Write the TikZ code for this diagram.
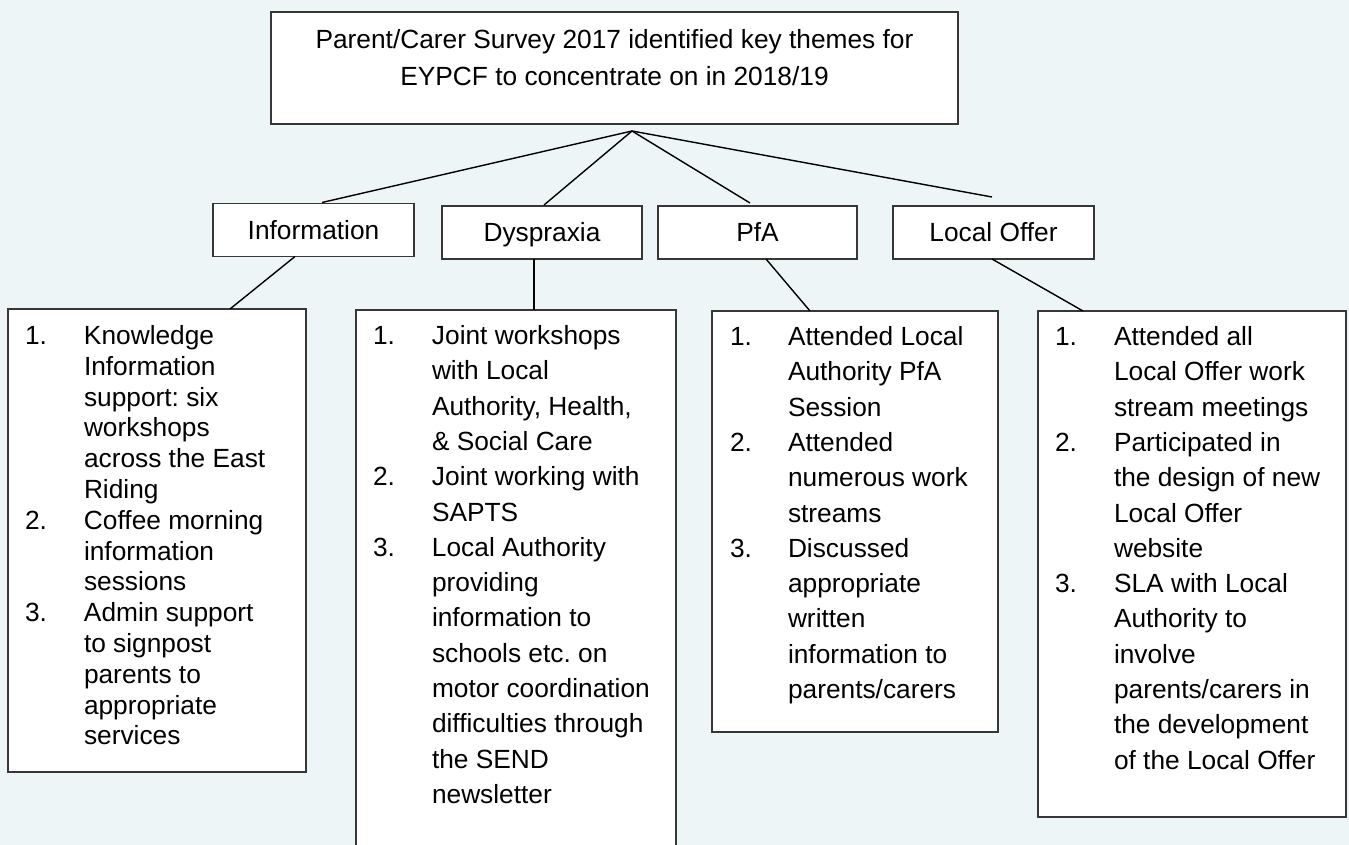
\documentclass[tikz,border=0pt]{standalone}
\usepackage{fontspec}
\setmainfont{Liberation Sans}
\usepackage{array}
\frenchspacing
\definecolor{bgcol}{RGB}{237,245,247}
\definecolor{edgecol}{RGB}{55,55,55}
\begin{document}
\frenchspacing
\begin{tikzpicture}[x=1pt,y=-1pt,
  font=\fontsize{26.3}{30.8}\selectfont\frenchspacing,
  box/.style={draw=edgecol, line width=1.2pt, fill=white, inner sep=0pt, outer sep=0pt},
  hdr/.style={box, text height=23.8pt, text depth=5.6pt, minimum height=53pt},
  conn/.style={draw=black, line width=1.4pt},
  listtext/.style={anchor=base west, inner sep=0pt, outer sep=0pt},
  wide/.style={font=\fontsize{26.3}{35.3}\selectfont\frenchspacing}]
\clip (0,0) rectangle (1349,845);
\fill[bgcol] (0,0) rectangle (1349,845);

% top box
\node[box, minimum width=687pt, minimum height=112pt] (top) at (614.5,68) {};
\node[anchor=base, inner sep=0pt, font=\fontsize{26.3}{37}\selectfont] (toptext) at (614.5,49)
  {\begin{tabular}[t]{@{}c@{}}Parent/Carer Survey 2017 identified key themes for\\EYPCF to concentrate on in 2018/19\end{tabular}};
\coordinate (apex) at (632,131);

% headers
\node[hdr, minimum width=201pt] (info) at (313.5,230) {Information};
\node[hdr, minimum width=200pt] (dysp) at (542,232.5) {Dyspraxia};
\node[hdr, minimum width=199pt] (pfa) at (757.5,232.5) {PfA};
\node[hdr, minimum width=201pt] (lo) at (993.5,232.5) {Local Offer};

% list boxes
\node[box, minimum width=298pt, minimum height=463pt] (infol) at (157,540.5) {};
\node[box, minimum width=320pt, minimum height=560pt] (dyspl) at (516,590) {};
\node[box, minimum width=286pt, minimum height=421pt] (pfal) at (855,521.5) {};
\node[box, minimum width=308pt, minimum height=506pt] (lol) at (1192,564) {};

% list texts
\node[listtext] (infot) at (25,344.5) {\begin{tabular}[t]{@{}p{59pt}@{}l@{}}
1. & Knowledge\\
   & Information\\
   & support: six\\
   & workshops\\
   & across the East\\
   & Riding\\
2. & Coffee morning\\
   & information\\
   & sessions\\
3. & Admin support\\
   & to signpost\\
   & parents to\\
   & appropriate\\
   & services
\end{tabular}};

\node[listtext, wide] (dyspt) at (373,344.5) {\begin{tabular}[t]{@{}p{59pt}@{}l@{}}
1. & Joint workshops\\
   & with Local\\
   & Authority, Health,\\
   & \& Social Care\\
2. & Joint working with\\
   & SAPTS\\
3. & Local Authority\\
   & providing\\
   & information to\\
   & schools etc. on\\
   & motor coordination\\
   & difficulties through\\
   & the SEND\\
   & newsletter
\end{tabular}};

\node[listtext, wide] (pfat) at (730,345.5) {\begin{tabular}[t]{@{}p{58pt}@{}l@{}}
1. & Attended Local\\
   & Authority PfA\\
   & Session\\
2. & Attended\\
   & numerous work\\
   & streams\\
3. & Discussed\\
   & appropriate\\
   & written\\
   & information to\\
   & parents/carers
\end{tabular}};

\node[listtext, wide] (lot) at (1055,345.5) {\begin{tabular}[t]{@{}p{59pt}@{}l@{}}
1. & Attended all\\
   & Local Offer work\\
   & stream meetings\\
2. & Participated in\\
   & the design of new\\
   & Local Offer\\
   & website\\
3. & SLA with Local\\
   & Authority to\\
   & involve\\
   & parents/carers in\\
   & the development\\
   & of the Local Offer
\end{tabular}};

% connectors
\draw[conn] (apex) -- ([xshift=8.5pt,yshift=1pt]info.north);
\draw[conn] (apex) -- ([xshift=2pt,yshift=1pt]dysp.north);
\draw[conn] (apex) -- ([xshift=-7.5pt,yshift=3pt]pfa.north);
\draw[conn] (apex) -- ([xshift=-1.5pt,yshift=9pt]lo.north);
\draw[conn] ([xshift=-18.5pt]info.south) -- ([xshift=73pt]infol.north);
\draw[conn] ([xshift=-8pt]dysp.south) -- ([xshift=18pt]dyspl.north);
\draw[conn] ([xshift=8.5pt]pfa.south) -- ([xshift=-45pt]pfal.north);
\draw[conn] ([xshift=-1.5pt]lo.south) -- ([xshift=-109pt]lol.north);
\end{tikzpicture}
\end{document}
